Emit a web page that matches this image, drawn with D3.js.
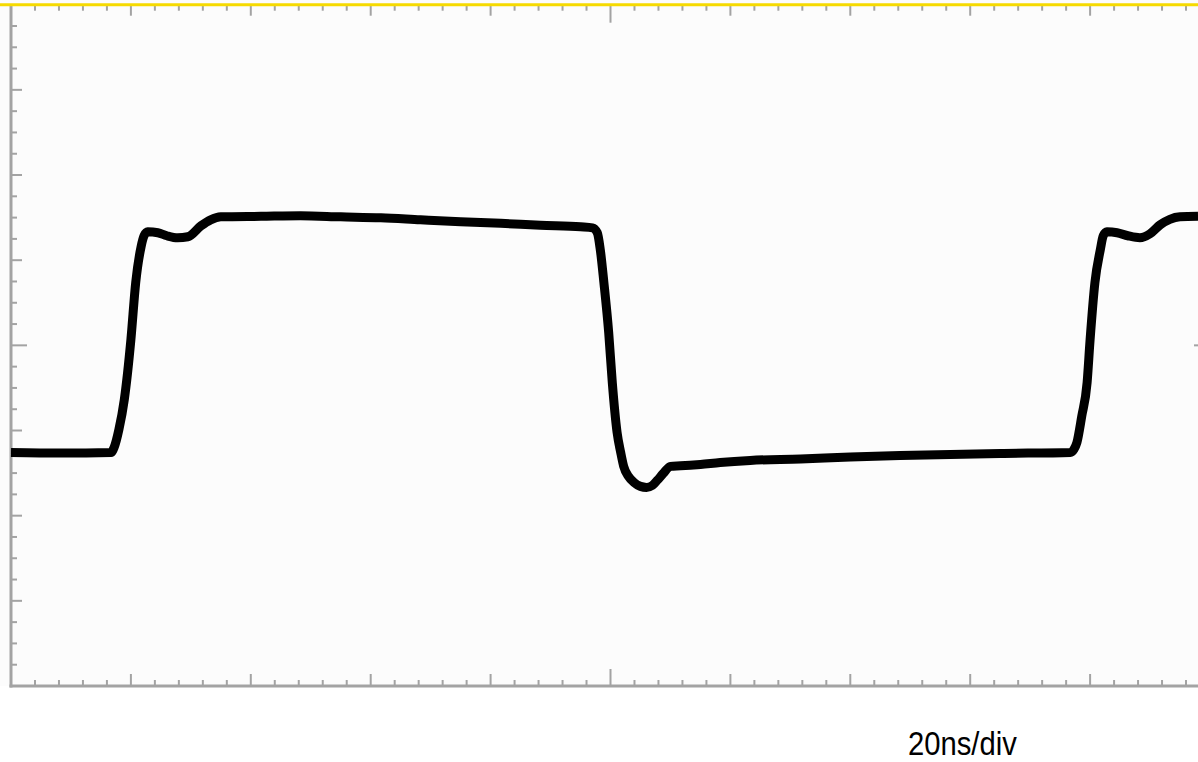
<!DOCTYPE html>
<html>
<head>
<meta charset="utf-8">
<script src="https://cdn.jsdelivr.net/npm/d3@7"></script>
<style>
  html, body { margin: 0; padding: 0; background: #ffffff; }
  svg { display: block; }
</style>
</head>
<body>
<svg id="chart" width="1198" height="762"></svg>
<script>
// Waveform samples: time in ns, amplitude in divisions from the centre line
const timeNs = [0, 8.3, 16.7, 17.2, 18.0, 18.9, 20.0, 20.8, 21.7, 22.2, 22.8, 24.5, 26.0, 27.8, 29.5, 31.7, 33.3, 35.0, 41.7, 48.3, 55.0, 61.7, 68.3, 75.0, 81.7, 88.3, 95.0, 97.0, 97.8, 98.3, 98.9, 99.7, 100.3, 101.1, 101.7, 102.2, 103.0, 103.9, 105.0, 106.0, 107.0, 107.8, 108.8, 110.0, 111.7, 115.0, 118.3, 123.3, 131.7, 140.0, 148.3, 156.7, 165.0, 176.7, 177.3, 177.8, 178.6, 179.5, 180.0, 180.8, 181.7, 182.2, 182.8, 184.5, 186.3, 188.3, 190.0, 191.7, 193.3, 195.0, 198.0];
const amplitudeDiv = [-1.257, -1.263, -1.257, -1.199, -0.988, -0.636, 0.068, 0.736, 1.158, 1.287, 1.333, 1.322, 1.287, 1.263, 1.275, 1.404, 1.474, 1.509, 1.515, 1.521, 1.509, 1.498, 1.474, 1.451, 1.433, 1.410, 1.392, 1.380, 1.322, 1.122, 0.736, 0.149, -0.437, -1.023, -1.257, -1.421, -1.539, -1.609, -1.656, -1.668, -1.644, -1.585, -1.504, -1.421, -1.415, -1.398, -1.375, -1.351, -1.334, -1.310, -1.293, -1.281, -1.269, -1.257, -1.222, -1.140, -0.835, -0.437, 0.067, 0.736, 1.122, 1.287, 1.333, 1.322, 1.287, 1.263, 1.310, 1.416, 1.480, 1.509, 1.515];
const timeDomain = [0, 200];      // 10 divisions at 20 ns/div
const ampDomain = [-4, 4];        // 8 vertical divisions
const scaleLabel = "20ns/div";

const svg = d3.select("#chart");
const pLeft = 11, pRight = 1210, pTop = 4.7, pBottom = 686;

const x = d3.scaleLinear().domain(timeDomain).range([pLeft, pRight]);
const y = d3.scaleLinear().domain(ampDomain).range([pBottom, pTop]);

// plot background
svg.append("rect").attr("x", 0).attr("y", 0).attr("width", 1198).attr("height", pBottom)
  .attr("fill", "#fcfcfc");

const grey = "#a3a3a3";
const g = svg.append("g");

// horizontal ticks (top & bottom): minor every 4 ns, major every 20 ns, centre at 100
const xt = d3.range(timeDomain[0], timeDomain[1] + 0.001, 4).filter(t => t > 0);
function xLen(t, minor, major, centre) {
  if (Math.abs(t - 100) < 1e-6) return centre;
  if (Math.abs(t % 20) < 1e-6) return major;
  return minor;
}
g.selectAll(".tt").data(xt).join("line")
  .attr("x1", d => x(d)).attr("x2", d => x(d))
  .attr("y1", pTop).attr("y2", d => pTop + xLen(d, 6, 11, 18))
  .attr("stroke", grey).attr("stroke-width", 2);
g.selectAll(".bt").data(xt).join("line")
  .attr("x1", d => x(d)).attr("x2", d => x(d))
  .attr("y1", pBottom).attr("y2", d => pBottom - xLen(d, 6, 12, 17))
  .attr("stroke", grey).attr("stroke-width", 2);

// vertical ticks (left & right): minor every 0.25 div, major every 1, centre at 0
const yt = d3.range(ampDomain[0], ampDomain[1] + 0.001, 0.25).filter(v => v > ampDomain[0] && v < ampDomain[1]);
function yLen(v, minor, major, centre) {
  if (Math.abs(v) < 1e-6) return centre;
  if (Math.abs(v - Math.round(v)) < 1e-6) return major;
  return minor;
}
g.selectAll(".lt").data(yt).join("line")
  .attr("x1", pLeft).attr("x2", d => pLeft + yLen(d, 6, 11, 16))
  .attr("y1", d => y(d)).attr("y2", d => y(d))
  .attr("stroke", grey).attr("stroke-width", 2);
g.selectAll(".rt").data(yt).join("line")
  .attr("x1", pRight).attr("x2", d => pRight - yLen(d, 6, 11, 16))
  .attr("y1", d => y(d)).attr("y2", d => y(d))
  .attr("stroke", grey).attr("stroke-width", 2);

// frame lines
g.append("line").attr("x1", pLeft).attr("x2", pLeft).attr("y1", pTop).attr("y2", pBottom + 1.5)
  .attr("stroke", grey).attr("stroke-width", 3);
g.append("line").attr("x1", pLeft - 1.5).attr("x2", pRight).attr("y1", pBottom).attr("y2", pBottom)
  .attr("stroke", grey).attr("stroke-width", 3);
g.append("line").attr("x1", 0).attr("x2", pRight).attr("y1", pTop).attr("y2", pTop)
  .attr("stroke", "#f6da00").attr("stroke-width", 3);

// waveform trace
const pts = timeNs.map((t, i) => [t, amplitudeDiv[i]]);
const line = d3.line().x(d => x(d[0])).y(d => y(d[1])).curve(d3.curveMonotoneX);
svg.append("path").datum(pts).attr("d", line)
  .attr("fill", "none").attr("stroke", "#000").attr("stroke-width", 9)
  .attr("stroke-linejoin", "round");

// time/div label
svg.append("text")
  .attr("transform", "translate(908,755) scale(0.86,1)")
  .attr("font-family", "'Liberation Sans', Arial, sans-serif")
  .attr("font-size", 34).attr("fill", "#000")
  .text(scaleLabel);
</script>
</body>
</html>
